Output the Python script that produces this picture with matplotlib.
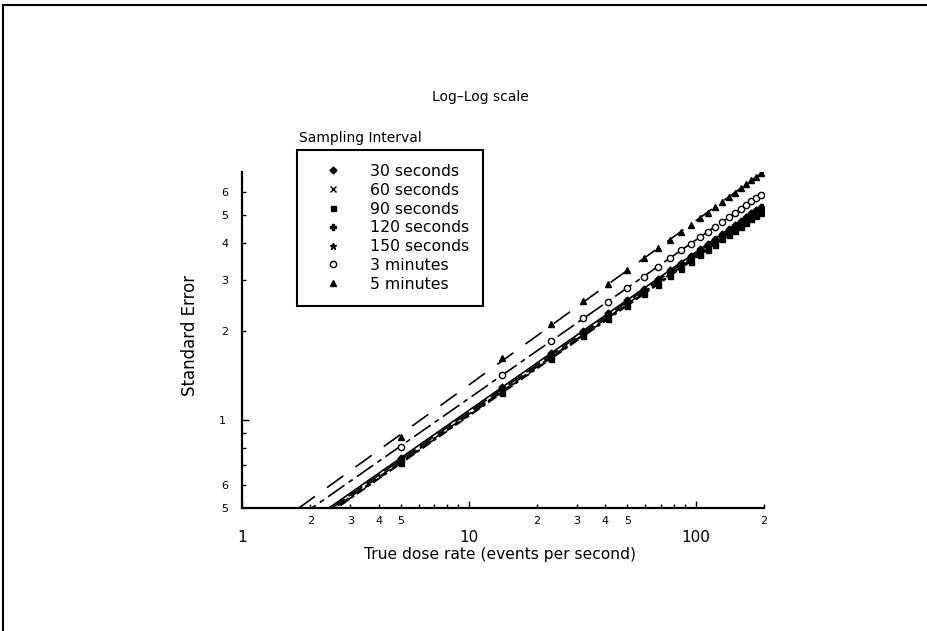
import numpy as np
import matplotlib
matplotlib.use("Agg")
import matplotlib.pyplot as plt
from matplotlib.lines import Line2D
from matplotlib.ticker import FixedLocator, FixedFormatter

# true dose rate (events per second) at which each interval was sampled
dose = [5, 14, 23, 32, 41, 50, 59, 68, 77, 86, 95, 104, 113, 122, 131, 140,
        149, 158, 167, 176, 185, 194]

# standard error, one list per sampling interval
se_30s = [0.74, 1.29, 1.69, 2.01, 2.31, 2.56, 2.80, 3.03, 3.24, 3.43, 3.63,
          3.81, 3.98, 4.15, 4.31, 4.47, 4.62, 4.77, 4.92, 5.06, 5.19, 5.33]
se_60s = [0.72, 1.25, 1.63, 1.96, 2.23, 2.49, 2.72, 2.94, 3.14, 3.33, 3.52,
          3.70, 3.86, 4.02, 4.18, 4.34, 4.48, 4.63, 4.77, 4.90, 5.04, 5.17]
se_90s = [0.71, 1.23, 1.61, 1.93, 2.20, 2.45, 2.68, 2.89, 3.09, 3.28, 3.46,
          3.64, 3.80, 3.96, 4.12, 4.27, 4.41, 4.56, 4.69, 4.83, 4.96, 5.09]
se_120s = [0.73, 1.27, 1.66, 1.99, 2.27, 2.52, 2.76, 2.98, 3.19, 3.38, 3.57,
           3.75, 3.92, 4.09, 4.25, 4.40, 4.55, 4.70, 4.84, 4.98, 5.12, 5.25]
se_150s = [0.71, 1.24, 1.63, 1.95, 2.22, 2.47, 2.70, 2.92, 3.12, 3.31, 3.50,
           3.68, 3.84, 4.00, 4.16, 4.31, 4.46, 4.60, 4.74, 4.88, 5.01, 5.14]
se_3min = [0.81, 1.42, 1.86, 2.22, 2.53, 2.82, 3.08, 3.33, 3.56, 3.78, 3.99,
           4.19, 4.38, 4.56, 4.74, 4.92, 5.08, 5.25, 5.41, 5.56, 5.71, 5.86]
se_5min = [0.87, 1.62, 2.12, 2.54, 2.91, 3.24, 3.55, 3.84, 4.11, 4.37, 4.62,
           4.86, 5.09, 5.31, 5.53, 5.74, 5.95, 6.15, 6.35, 6.55, 6.75, 6.95]

labels = ["30 seconds", "60 seconds", "90 seconds", "120 seconds",
          "150 seconds", "3 minutes", "5 minutes"]
series = [se_30s, se_60s, se_90s, se_120s, se_150s, se_3min, se_5min]

markers = ["D", "x", "s", "P", "*", "o", "^"]
msizes = [3.5, 4, 3.6, 4, 4.8, 4.5, 4.5]
dashes = [(None, None), (8, 2), (6, 2, 2, 2), (10, 3), (4, 2),
          (12, 3, 3, 3), (12, 9)]

x_tick_major = [1, 10, 100]
x_tick_minor = [2, 3, 4, 5, 6, 7, 8, 9, 20, 30, 40, 50, 60, 70, 80, 90, 200]
x_minor_lab = ["2", "3", "4", "5", "", "", "", "", "2", "3", "4", "5",
               "", "", "", "", "2"]
y_tick_major = [1]
y_tick_minor = [0.5, 0.6, 0.7, 0.8, 0.9, 2, 3, 4, 5, 6]
y_minor_lab = ["5", "6", "", "", "", "2", "3", "4", "5", "6"]

fig = plt.figure(figsize=(9.28, 6.31), dpi=100)
ax = fig.add_axes([242 / 928, 123 / 631, 522 / 928, 336 / 631])
ax.set_xscale("log")
ax.set_yscale("log")
ax.set_xlim(1, 200)
ax.set_ylim(0.5, 7.0)

xs = np.logspace(0, np.log10(200), 200)
for vals, m, ms, d in zip(series, markers, msizes, dashes):
    # fitted power law, drawn across the whole axis as in the original
    b, a = np.polyfit(np.log10(dose), np.log10(vals), 1)
    ln, = ax.plot(xs, 10 ** (a + b * np.log10(xs)), color="black", lw=1.2)
    if d[0] is not None:
        ln.set_dashes(d)
    mfc = "white" if m == "o" else "black"
    ax.plot(dose, vals, ls="none", marker=m, ms=ms, color="black",
            mfc=mfc, mew=1.0)

for s in ["top", "right"]:
    ax.spines[s].set_visible(False)
for s in ["left", "bottom"]:
    ax.spines[s].set_linewidth(1.6)

ax.xaxis.set_major_locator(FixedLocator(x_tick_major))
ax.xaxis.set_major_formatter(FixedFormatter([str(v) for v in x_tick_major]))
ax.xaxis.set_minor_locator(FixedLocator(x_tick_minor))
ax.xaxis.set_minor_formatter(FixedFormatter(x_minor_lab))
ax.yaxis.set_major_locator(FixedLocator(y_tick_major))
ax.yaxis.set_major_formatter(FixedFormatter(["1"]))
ax.yaxis.set_minor_locator(FixedLocator(y_tick_minor))
ax.yaxis.set_minor_formatter(FixedFormatter(y_minor_lab))

ax.tick_params(axis="x", which="major", direction="in", length=5, width=1,
               pad=16, labelsize=11)
ax.tick_params(axis="x", which="minor", direction="in", length=3, width=1,
               pad=6, labelsize=8)
ax.tick_params(axis="y", which="major", direction="in", length=5, width=1,
               pad=12, labelsize=8)
ax.tick_params(axis="y", which="minor", direction="in", length=3, width=1,
               pad=10, labelsize=8)

fig.text(500 / 928, 1 - 555 / 631, "True dose rate (events per second)",
         ha="center", va="center", fontsize=11.2)
fig.text(190 / 928, 1 - 335 / 631, "Standard Error", ha="center",
         va="center", rotation=90, fontsize=12)
fig.text(480 / 928, 1 - 97 / 631, "Log\u2013Log scale", ha="center",
         va="center", fontsize=10)

handles = [Line2D([], [], ls="none", marker=m, ms=ms, color="black",
                  mfc=("white" if m == "o" else "black"), mew=1.0)
           for m, ms in zip(markers, msizes)]
leg = ax.legend(handles, labels, loc="upper left",
                bbox_to_anchor=(297 / 928, 1 - 150 / 631),
                bbox_transform=fig.transFigure, fontsize=11.3,
                frameon=True, fancybox=False, framealpha=1,
                edgecolor="black", borderpad=0.89, labelspacing=0.24,
                handlelength=2.8, handletextpad=0.95, borderaxespad=0)
leg.get_frame().set_linewidth(1.5)
fig.text(360 / 928, 1 - 138 / 631, "Sampling Interval", ha="center",
         va="center", fontsize=10)

# edges of the scanned page
fig.add_artist(Line2D([3 / 928, 3 / 928], [0, 1 - 5 / 631],
                      transform=fig.transFigure, color="black", lw=1.5))
fig.add_artist(Line2D([3 / 928, 926 / 928], [1 - 5 / 631, 1 - 5 / 631],
                      transform=fig.transFigure, color="black", lw=1.5))

fig.savefig("out.png", dpi=100)
